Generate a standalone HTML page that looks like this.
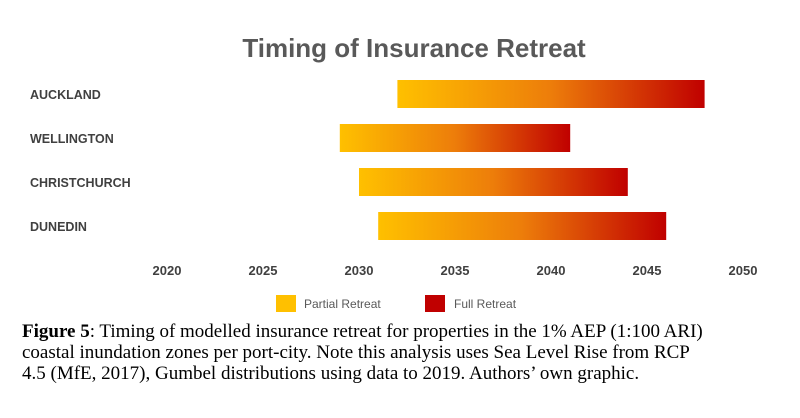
<!DOCTYPE html>
<html><head><meta charset="utf-8"><style>
body{margin:0;width:800px;height:418px;background:#fff;overflow:hidden}
svg{display:block}
.cap{position:absolute;left:22px;top:321px;width:706px;font-family:"Liberation Serif",serif;font-size:19px;line-height:21px;color:#000}
</style></head><body>
<svg width="800" height="418" id="c">
<defs><linearGradient id="g" x1="0" x2="1"><stop offset="0" stop-color="#ffc000"/><stop offset="0.5" stop-color="#ed7d0a"/><stop offset="1" stop-color="#c00000"/></linearGradient></defs>
<text x="414" y="57" text-anchor="middle" font-family="Liberation Sans,sans-serif" font-weight="bold" font-size="26" fill="#595959">Timing of Insurance Retreat</text>
<rect x="276" y="295" width="20" height="17" fill="#ffc000"/>
<text x="304" y="308" font-family="Liberation Sans,sans-serif" font-size="12" fill="#595959">Partial Retreat</text>
<rect x="425" y="295" width="20" height="17" fill="#c00000"/>
<text x="454" y="308" font-family="Liberation Sans,sans-serif" font-size="12" fill="#595959">Full Retreat</text>
</svg>
<div class="cap"><b>Figure 5</b>: Timing of modelled insurance retreat for properties in the 1% AEP (1:100 ARI) coastal inundation zones per port-city. Note this analysis uses Sea Level Rise from RCP<br>4.5 (MfE, 2017), Gumbel distributions using data to 2019. Authors’ own graphic.</div>
<script>
const cities=["AUCKLAND","WELLINGTON","CHRISTCHURCH","DUNEDIN"];
const startYears=[2032,2029,2030,2031];
const endYears=[2048,2041,2044,2046];
const ticks=[2020,2025,2030,2035,2040,2045,2050];
const svg=document.getElementById('c');const NS='http://www.w3.org/2000/svg';
const x=v=>167+(v-2020)*19.2;
const y=i=>80+i*44;
ticks.forEach(t=>{const e=document.createElementNS(NS,'text');
e.setAttribute('x',x(t));e.setAttribute('y',275);e.setAttribute('text-anchor','middle');
e.setAttribute('font-family','Liberation Sans,sans-serif');e.setAttribute('font-weight','bold');e.setAttribute('font-size','13');e.setAttribute('fill','#404040');
e.textContent=t;


svg.appendChild(e);});
cities.forEach((c,i)=>{const t=document.createElementNS(NS,'text');
t.setAttribute('x',30);t.setAttribute('y',y(i)+19);t.setAttribute('font-family','Liberation Sans,sans-serif');t.setAttribute('font-weight','bold');t.setAttribute('font-size','12.5');t.setAttribute('fill','#404040');
t.textContent=c;


svg.appendChild(t);
const r=document.createElementNS(NS,'rect');
r.setAttribute('x',x(startYears[i]));r.setAttribute('y',y(i));r.setAttribute('width',x(endYears[i])-x(startYears[i]));r.setAttribute('height',28);r.setAttribute('fill','url(#g)');


svg.appendChild(r);});
</script>
</body></html>
